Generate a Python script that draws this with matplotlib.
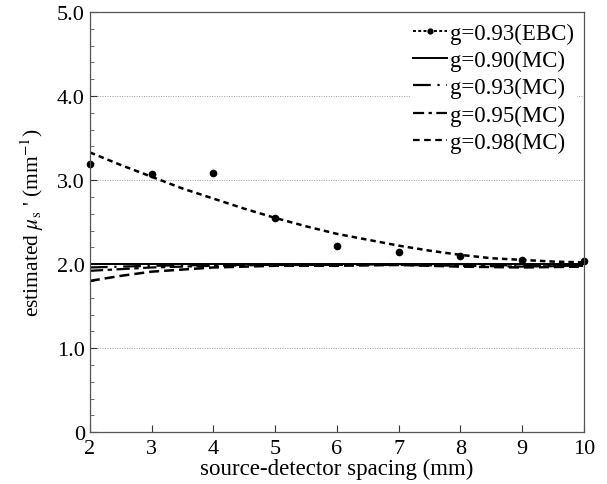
import matplotlib
matplotlib.use("Agg")
import matplotlib.pyplot as plt
from matplotlib.lines import Line2D
from matplotlib.ticker import MultipleLocator

plt.rcParams["font.family"] = ["Liberation Serif", "DejaVu Serif"]
plt.rcParams["mathtext.fontset"] = "stix"

# measured points (EBC, g=0.93)
spacing = [2, 3, 4, 5, 6, 7, 8, 9, 10]
ebc_points = [3.19, 3.07, 3.08, 2.55, 2.21, 2.14, 2.10, 2.05, 2.04]

# fitted EBC curve
fit_x = [2, 2.5, 3, 3.5, 4, 4.5, 5, 5.5, 6, 6.5, 7, 7.5, 8, 8.5, 9, 9.5, 10]
fit_y = [3.33, 3.18, 3.04, 2.90, 2.78, 2.66, 2.55, 2.45, 2.36, 2.29, 2.22,
         2.16, 2.11, 2.07, 2.05, 2.03, 2.02]

# Monte Carlo estimates
mc_x = [2, 2.5, 3, 4, 5, 6, 7, 8, 9, 10]
mc_090 = [2.00, 2.00, 2.00, 2.00, 2.00, 2.00, 2.00, 2.00, 2.00, 2.00]
mc_093 = [1.96, 1.97, 1.98, 1.99, 1.99, 1.99, 2.00, 2.00, 1.98, 1.98]
mc_095 = [1.92, 1.94, 1.96, 1.98, 1.99, 1.99, 1.99, 1.98, 1.97, 1.98]
mc_098 = [1.80, 1.86, 1.91, 1.96, 1.98, 1.98, 1.99, 1.97, 1.96, 1.97]

fig = plt.figure(figsize=(6.07, 4.85), dpi=100)
ax = fig.add_axes((0.148, 0.107, 0.814, 0.866))

for yv in [1, 2, 3, 4]:
    ax.axhline(yv, color="#999999", lw=0.7, ls=(0, (1, 1.5)), zorder=0)

ax.plot(fit_x, fit_y, color="k", lw=1.8, ls=(0, (2.2, 1.6)))
ax.plot(spacing, ebc_points, "o", color="k", ms=4.5, clip_on=False)
ax.plot(mc_x, mc_090, color="k", lw=1.4, ls="-")
ax.plot(mc_x, mc_093, color="k", lw=1.6, ls=(0, (8, 3, 1, 3)))
ax.plot(mc_x, mc_095, color="k", lw=1.6, ls=(0, (6, 2, 2, 2)))
ax.plot(mc_x, mc_098, color="k", lw=1.8, ls=(0, (4, 2)))

handles = [
    Line2D([], [], color="k", lw=1.4, ls=(0, (1.5, 1.2)), marker="o", ms=3.5),
    Line2D([], [], color="k", lw=1.4, ls="-"),
    Line2D([], [], color="k", lw=1.6, ls=(0, (8, 3, 1, 3))),
    Line2D([], [], color="k", lw=1.6, ls=(0, (5, 2, 1.5, 2))),
    Line2D([], [], color="k", lw=1.6, ls=(0, (3, 2))),
]
labels = ["g=0.93(EBC)", "g=0.90(MC)", "g=0.93(MC)", "g=0.95(MC)", "g=0.98(MC)"]
leg = ax.legend(handles, labels, loc="upper right", fontsize=16.5,
                frameon=True, framealpha=1, edgecolor="none", facecolor="white",
                handlelength=1.5, handletextpad=0.1, labelspacing=0.27,
                borderaxespad=0.3, borderpad=0.15, numpoints=1)

ax.set_xlim(2, 10)
ax.set_ylim(0, 5)
ax.set_xticks(range(2, 11))
ax.set_yticks([0, 1, 2, 3, 4, 5])
ax.set_yticklabels(["0", "1.0", "2.0", "3.0", "4.0", "5.0"])
ax.yaxis.set_minor_locator(MultipleLocator(0.2))
ax.tick_params(direction="in", labelsize=16, length=5, width=0.8,
               colors="#333333", labelcolor="k")
ax.tick_params(axis="x", pad=5)
ax.tick_params(which="minor", direction="in", length=3, width=0.6,
               colors="#555555")
for s in ax.spines.values():
    s.set_linewidth(0.9)
    s.set_color("#555555")

ax.set_xlabel("source-detector spacing (mm)", fontsize=16.5, labelpad=0)
ax.set_ylabel(r"estimated $\mu_{\rm s}$ ' (mm$^{-1}$)", fontsize=15.5, labelpad=8)

fig.savefig("out.png", dpi=100)
